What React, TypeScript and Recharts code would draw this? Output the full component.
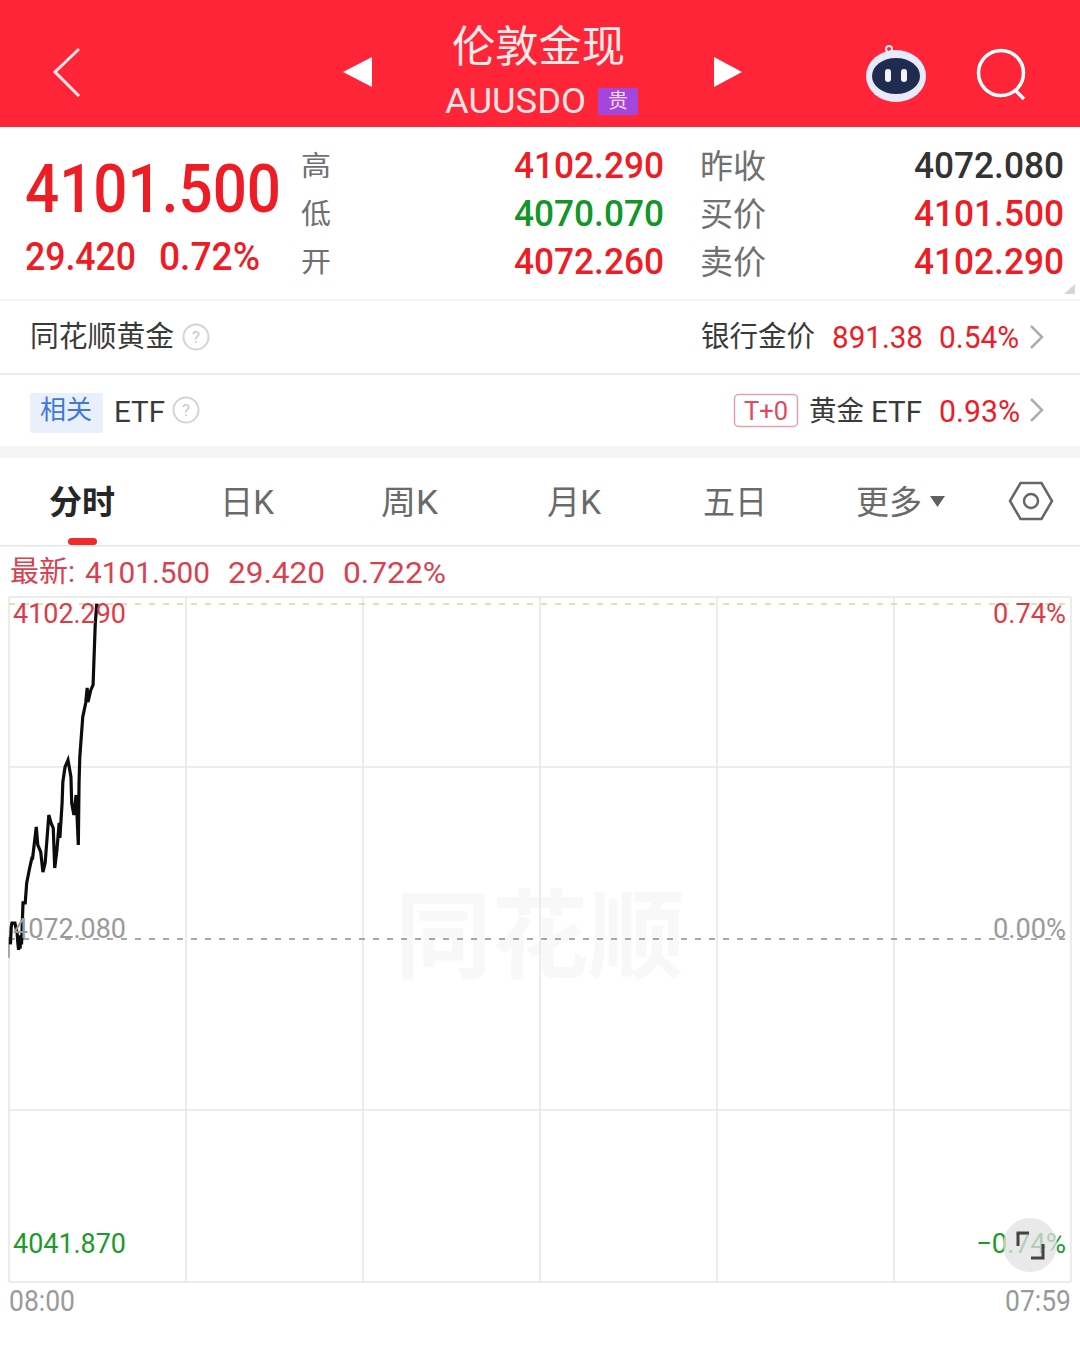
import { ComposedChart, Line, XAxis, YAxis, CartesianGrid, ReferenceLine } from "recharts";

const minutes = [2, 3, 4, 8, 11, 12, 13, 14, 15, 16, 17, 19, 22, 24, 28, 31, 32, 37, 39, 43, 46, 49, 54, 57, 60, 62, 65, 68, 69, 72, 73, 76, 80, 84, 85, 88, 91, 94, 95, 96, 100, 104, 106, 107, 111, 114, 117, 119, 120];
const prices = [4071.6, 4073.16, 4073.52, 4073.52, 4072.62, 4071.72, 4071.1, 4072.4, 4071.2, 4072.3, 4071.6, 4075.33, 4075.33, 4077.13, 4078.48, 4079.38, 4079.38, 4082.18, 4080.56, 4079.93, 4078.12, 4078.93, 4083.26, 4082.54, 4082.09, 4078.48, 4080.11, 4082.54, 4081.19, 4084.34, 4086.24, 4087.59, 4088.22, 4086.69, 4084.34, 4083.26, 4085.07, 4080.56, 4086.24, 4088.49, 4092.1, 4093.36, 4094.72, 4093.45, 4094.54, 4094.99, 4100.58, 4102.29, 4101.5];
const openPrices = [4072.26, 4070.4];
const priceTicks = [4041.87, 4072.08, 4102.29];
const priceLabels = ["4041.870", "4072.080", "4102.290"];
const pctLabels = ["\u22120.74%", "0.00%", "0.74%"];
const pctWidths = [90, 73, 73];
const tickColors = ["#1c9a2a", "#9a9a9a", "#df3a45"];
const gridPrices = [4041.15, 4056.66, 4087.59, 4102.92];
const gridMinutes = [0, 240, 480, 720, 960, 1200, 1440];
const timeTicks = [0, 1440];
const timeLabels = ["08:00", "07:59"];

const seriesData = minutes.map((m, i) => ({ minute: m, price: prices[i] }));
const openData = openPrices.map((p) => ({ minute: 0, open: p }));

const FONT = "Roboto, 'Noto Sans CJK SC', sans-serif";
const RED = "#ee1c25";
const GREEN = "#12962a";

// text helper, w squeezes the run to the width measured on the reference
const T = ({ x, y, w, size, fill, weight, children }: any) => (
  <text
    x={x}
    y={y}
    fontSize={size}
    fill={fill}
    fontWeight={weight || 400}
    fontFamily={FONT}
    dominantBaseline="central"
    textLength={w}
    lengthAdjust="spacingAndGlyphs"
  >
    {children}
  </text>
);

const Help = ({ x, y }: any) => (
  <g>
    <circle cx={x} cy={y} r={12.5} fill="none" stroke="#d4d4d4" strokeWidth={2} />
    <text x={x} y={y} fontSize={17} fill="#c8c8c8" textAnchor="middle" dominantBaseline="central" fontFamily={FONT}>?</text>
  </g>
);

const Chevron = ({ x, y }: any) => (
  <path d={`M${x},${y - 11}L${x + 11},${y}L${x},${y + 11}`} fill="none" stroke="#adadad" strokeWidth={2.5} />
);

const Page = () => (
  <svg width={1080} height={1345} style={{ position: "absolute", left: 0, top: 0 }}>
    <rect width={1080} height={127} fill="#fd2537" />
    <path d="M79,49L55,72L79,96" fill="none" stroke="#ffe6e6" strokeWidth={3} />
    <path d="M372,57V87L343,72Z" fill="#fff" />
    <path d="M714,57V87L742,72Z" fill="#fff" />
    <T x={452} y={47} w={173} size={43} fill="#ffe9e9">伦敦金现</T>
    <T x={445} y={101} w={141} size={35} fill="#ffe4e4">AUUSDO</T>
    <rect x={598} y={88} width={40} height={27} rx={2} fill="#a445dd" />
    <T x={608} y={101} w={20} size={20} fill="#ffd9f2">贵</T>
    <circle cx={889} cy={49} r={3} fill="none" stroke="#f3e8f0" strokeWidth={2} />
    <ellipse cx={896} cy={76} rx={30} ry={26} fill="#e8ecfa" />
    <ellipse cx={896} cy={76} rx={24} ry={18} fill="#1f2c4f" />
    <rect x={885} y={69} width={6} height={13} rx={3} fill="#f4f6ff" />
    <rect x={901} y={69} width={6} height={13} rx={3} fill="#f4f6ff" />
    <circle cx={1001} cy={73} r={22.5} fill="none" stroke="#fff" strokeWidth={3.5} />
    <path d="M1015,90L1024,99" stroke="#fff" strokeWidth={3.5} />

    <T x={25} y={189} w={256} size={66} fill={RED} weight={500}>4101.500</T>
    <T x={25} y={257} w={111} size={38} fill={RED} weight={500}>29.420</T>
    <T x={159} y={257} w={101} size={38} fill={RED} weight={500}>0.72%</T>
    <T x={301} y={166} w={30} size={28} fill="#707070">高</T>
    <T x={301} y={214} w={30} size={28} fill="#707070">低</T>
    <T x={301} y={262} w={30} size={28} fill="#707070">开</T>
    <T x={514} y={165} w={150} size={37} fill={RED} weight={500}>4102.290</T>
    <T x={514} y={213} w={150} size={37} fill={GREEN} weight={500}>4070.070</T>
    <T x={514} y={261} w={150} size={37} fill={RED} weight={500}>4072.260</T>
    <T x={700} y={166} w={66} size={33} fill="#707070">昨收</T>
    <T x={700} y={214} w={66} size={33} fill="#707070">买价</T>
    <T x={700} y={262} w={66} size={33} fill="#707070">卖价</T>
    <T x={914} y={165} w={150} size={37} fill="#333" weight={500}>4072.080</T>
    <T x={914} y={213} w={150} size={37} fill={RED} weight={500}>4101.500</T>
    <T x={914} y={261} w={150} size={37} fill={RED} weight={500}>4102.290</T>
    <path d="M1075,284V294H1064Z" fill="#d3d6dc" />
    <rect y={299} width={1080} height={2} fill="#f3f3f3" />

    <T x={30} y={337} w={144} size={29} fill="#3a3a3a">同花顺黄金</T>
    <Help x={196} y={337} />
    <T x={701} y={337} w={114} size={29} fill="#3a3a3a">银行金价</T>
    <T x={832} y={337} w={91} size={32} fill={RED}>891.38</T>
    <T x={939} y={337} w={80} size={32} fill={RED}>0.54%</T>
    <Chevron x={1031} y={337} />
    <rect y={373} width={1080} height={2} fill="#ececec" />

    <rect x={30} y={393} width={73} height={40} rx={2} fill="#e9f0fb" />
    <T x={40} y={410} w={52} size={26} fill="#3f78d8">相关</T>
    <T x={114} y={411} w={51} size={30} fill="#3a3a3a">ETF</T>
    <Help x={186} y={410} />
    <rect x={734.5} y={394.5} width={63} height={32} rx={4} fill="#fff" stroke="#e8a3aa" strokeWidth={1.5} />
    <T x={744} y={411} w={44} size={26} fill="#e04a5c">T+0</T>
    <T x={809} y={411} w={55} size={28} fill="#3a3a3a">黄金</T>
    <T x={871} y={411} w={51} size={30} fill="#3a3a3a">ETF</T>
    <T x={939} y={411} w={81} size={32} fill={RED}>0.93%</T>
    <Chevron x={1031} y={410} />
    <rect y={446} width={1080} height={12} fill="#f5f5f5" />

    <T x={49} y={502} w={66} size={33} fill="#262626" weight={700}>分时</T>
    <T x={220} y={502} w={54} size={33} fill="#6a6a6a">日K</T>
    <T x={381} y={502} w={57} size={33} fill="#6a6a6a">周K</T>
    <T x={547} y={502} w={54} size={33} fill="#6a6a6a">月K</T>
    <T x={703} y={502} w={64} size={33} fill="#6a6a6a">五日</T>
    <T x={856} y={502} w={66} size={33} fill="#6a6a6a">更多</T>
    <path d="M930,496H945L937.5,507Z" fill="#606060" />
    <path d="M1010,501L1020.5,483H1041.5L1052,501L1041.5,519H1020.5Z" fill="none" stroke="#666" strokeWidth={2.5} />
    <circle cx={1031} cy={501} r={7} fill="none" stroke="#666" strokeWidth={2.5} />
    <rect x={68} y={538} width={29} height={7} rx={3.5} fill="#f02a2a" />
    <rect y={545} width={1080} height={1.5} fill="#e6e6e6" />

    <T x={10} y={572} w={65} size={29} fill="#d8414f">最新:</T>
    <T x={85} y={572} w={125} size={30} fill="#d8414f">4101.500</T>
    <T x={228} y={572} w={97} size={30} fill="#d8414f">29.420</T>
    <T x={343} y={572} w={103} size={30} fill="#d8414f">0.722%</T>

    <T x={395} y={937} w={290} size={96} fill="#f8f8f8" weight={700}>同花顺</T>
  </svg>
);

const ZoomButton = () => (
  <svg width={1080} height={1345} style={{ position: "absolute", left: 0, top: 0, pointerEvents: "none" }}>
    <circle cx={1030} cy={1245} r={27} fill="#e2e2e2" fillOpacity={0.75} />
    <path d="M1018,1246V1233H1029" fill="none" stroke="#444" strokeWidth={3} />
    <path d="M1043,1244V1258H1031" fill="none" stroke="#444" strokeWidth={3} />
  </svg>
);

const labelShift = (index: number) => (index === 2 ? 10 : index === 1 ? -11 : -31);

const PriceTick = ({ y, index }: any) => (
  <text
    x={13}
    y={y + labelShift(index)}
    fontSize={28}
    fill={tickColors[index]}
    fontFamily={FONT}
    dominantBaseline="central"
    textLength={113}
    lengthAdjust="spacingAndGlyphs"
  >
    {priceLabels[index]}
  </text>
);

const PctTick = ({ y, index }: any) => (
  <text
    x={1066 - pctWidths[index]}
    y={y + labelShift(index)}
    fontSize={28}
    fill={tickColors[index]}
    fontFamily={FONT}
    dominantBaseline="central"
    textLength={pctWidths[index]}
    lengthAdjust="spacingAndGlyphs"
  >
    {pctLabels[index]}
  </text>
);

const TimeTick = ({ x, y, index }: any) => (
  <text
    x={index === 0 ? x : x - 66}
    y={y + 11}
    fontSize={29}
    fill="#9a9a9a"
    fontFamily={FONT}
    dominantBaseline="central"
    textLength={66}
    lengthAdjust="spacingAndGlyphs"
  >
    {timeLabels[index]}
  </text>
);

export default function App() {
  const domain: [number, number] = [4041.15, 4102.92];
  return (
    <div style={{ position: "absolute", left: 0, top: 0, width: 1080, height: 1345, background: "#fff", overflow: "hidden" }}>
      <Page />
      <div style={{ position: "absolute", left: 0, top: 590 }}>
        <ComposedChart
          width={1080}
          height={755}
          data={seriesData}
          margin={{ top: 7, right: 9, bottom: 0, left: 9 }}
        >
          <CartesianGrid yAxisId="left" stroke="#e6e6e6" strokeWidth={1.5} horizontalValues={gridPrices} verticalValues={gridMinutes} />
          <XAxis
            dataKey="minute"
            type="number"
            domain={[0, 1440]}
            ticks={timeTicks}
            interval={0}
            tick={<TimeTick />}
            axisLine={false}
            tickLine={false}
            height={63}
          />
          <YAxis yAxisId="left" mirror width={120} domain={domain} ticks={priceTicks} interval={0} tick={<PriceTick />} axisLine={false} tickLine={false} />
          <YAxis yAxisId="right" orientation="right" mirror width={100} domain={domain} ticks={priceTicks} interval={0} tick={<PctTick />} axisLine={false} tickLine={false} />
          <ReferenceLine yAxisId="left" y={4102.29} stroke="#d6d6a8" strokeWidth={1.5} strokeDasharray="6 8" />
          <ReferenceLine yAxisId="left" y={4072.08} stroke="#8a8a8a" strokeWidth={1.5} strokeDasharray="6 8" />
          <Line yAxisId="right" dataKey="price" stroke="none" dot={false} legendType="none" isAnimationActive={false} />
          <Line yAxisId="left" data={openData} dataKey="open" stroke="#a8a8a8" strokeWidth={2} dot={false} isAnimationActive={false} />
          <Line yAxisId="left" dataKey="price" stroke="#0c0c0c" strokeWidth={3.2} dot={false} isAnimationActive={false} />
        </ComposedChart>
      </div>
      <ZoomButton />
    </div>
  );
}
